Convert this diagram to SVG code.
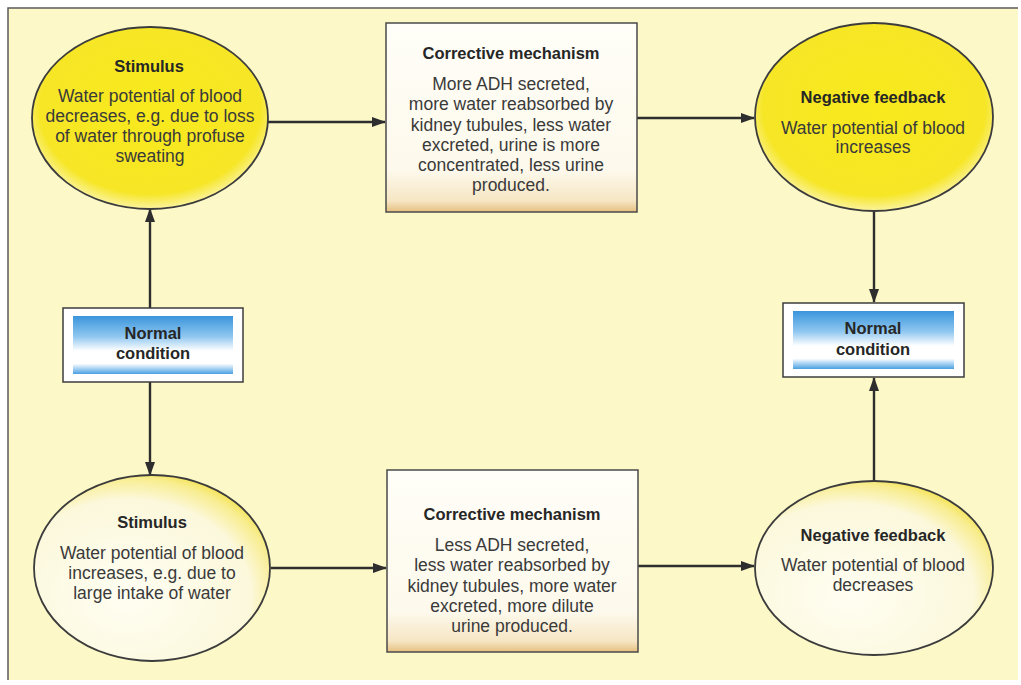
<svg xmlns="http://www.w3.org/2000/svg" width="1021" height="685" viewBox="0 0 1021 685">
<defs>
<radialGradient id="ySolid" cx="0.5" cy="0.45" r="0.55">
<stop offset="0" stop-color="#f8ea1c"/>
<stop offset="0.85" stop-color="#f6e626"/>
<stop offset="1" stop-color="#fbf3a0"/>
</radialGradient>
<radialGradient id="yPale" cx="0.4" cy="0.65" r="0.72">
<stop offset="0" stop-color="#fffef2"/>
<stop offset="0.72" stop-color="#fcf8dc"/>
<stop offset="0.88" stop-color="#f8ed90"/>
<stop offset="1" stop-color="#f2dc2a"/>
</radialGradient>
<linearGradient id="boxFill" x1="0" y1="0" x2="0" y2="1">
<stop offset="0" stop-color="#fffef8"/>
<stop offset="0.78" stop-color="#fdf9ec"/>
<stop offset="0.94" stop-color="#f6e6c4"/>
<stop offset="1" stop-color="#e6bf80"/>
</linearGradient>
<linearGradient id="blue" x1="0" y1="0" x2="0" y2="1">
<stop offset="0" stop-color="#3b95dc"/>
<stop offset="0.35" stop-color="#8ec6f0"/>
<stop offset="0.6" stop-color="#ffffff"/>
<stop offset="0.82" stop-color="#ffffff"/>
<stop offset="1" stop-color="#4aa0e2"/>
</linearGradient>
<marker id="arr" viewBox="0 0 14 10" refX="13" refY="5" markerWidth="14" markerHeight="10" markerUnits="userSpaceOnUse" orient="auto">
<path d="M0,0 L14,5 L0,10 z" fill="#2e2e2e"/>
</marker>
<style>
.ell{stroke:#3c3c3c;stroke-width:1.8}
.box{fill:url(#boxFill);stroke:#4a4a4a;stroke-width:1.5}
.nc{fill:#ffffff;stroke:#3c3c3c;stroke-width:1.5}
.t{font-family:"Liberation Sans",Arial,sans-serif;font-weight:bold;font-size:16.5px;fill:#262626;text-anchor:middle}
.b{font-family:"Liberation Sans",Arial,sans-serif;font-size:17.5px;fill:#3a3a3a;text-anchor:middle}
.c{stroke:#2e2e2e;stroke-width:2.4;fill:none;marker-end:url(#arr)}
</style>
</defs>
<rect x="0" y="0" width="1021" height="685" fill="#ffffff"/>
<rect x="8" y="8" width="1010" height="672" fill="#fcf8c8"/>
<path d="M8,680 L8,8 L1018,8" fill="none" stroke="#5a5a5a" stroke-width="1.5"/>

<g id="connectors">
<line class="c" x1="268" y1="122" x2="385" y2="122"/>
<line class="c" x1="637" y1="118" x2="754" y2="118"/>
<line class="c" x1="150" y1="308" x2="150" y2="209"/>
<line class="c" x1="150" y1="382" x2="150" y2="475"/>
<line class="c" x1="271" y1="568" x2="386" y2="568"/>
<line class="c" x1="638" y1="566" x2="754" y2="566"/>
<line class="c" x1="874" y1="210" x2="874" y2="302"/>
<line class="c" x1="874" y1="482" x2="874" y2="378"/>
</g>

<g id="stimulus-top">
<ellipse class="ell" cx="150" cy="118" rx="118" ry="91" fill="url(#ySolid)"/>
<text class="t" x="149" y="72">Stimulus</text>
<text class="b" x="150" y="102">Water potential of blood</text>
<text class="b" x="150" y="122">decreases, e.g. due to loss</text>
<text class="b" x="150" y="142">of water through profuse</text>
<text class="b" x="150" y="162">sweating</text>
</g>

<g id="corrective-top">
<rect class="box" x="386" y="23" width="251" height="189"/>
<text class="t" x="511" y="59">Corrective mechanism</text>
<text class="b" x="511" y="90">More ADH secreted,</text>
<text class="b" x="511" y="110">more water reabsorbed by</text>
<text class="b" x="511" y="131">kidney tubules, less water</text>
<text class="b" x="511" y="151">excreted, urine is more</text>
<text class="b" x="511" y="171">concentrated, less urine</text>
<text class="b" x="511" y="191">produced.</text>
</g>

<g id="feedback-top">
<ellipse class="ell" cx="874" cy="117" rx="119" ry="94" fill="url(#ySolid)"/>
<text class="t" x="873" y="103">Negative feedback</text>
<text class="b" x="873" y="134">Water potential of blood</text>
<text class="b" x="873" y="153">increases</text>
</g>

<g id="normal-left">
<rect class="nc" x="63" y="308" width="180" height="74"/>
<rect x="73" y="316" width="160" height="58" fill="url(#blue)"/>
<text class="t" x="153" y="339">Normal</text>
<text class="t" x="153" y="359">condition</text>
</g>

<g id="normal-right">
<rect class="nc" x="783" y="303" width="181" height="74"/>
<rect x="793" y="311" width="161" height="58" fill="url(#blue)"/>
<text class="t" x="873" y="334">Normal</text>
<text class="t" x="873" y="355">condition</text>
</g>

<g id="stimulus-bottom">
<ellipse class="ell" cx="152" cy="568" rx="118" ry="93" fill="url(#yPale)"/>
<text class="t" x="152" y="528">Stimulus</text>
<text class="b" x="152" y="559">Water potential of blood</text>
<text class="b" x="152" y="579">increases, e.g. due to</text>
<text class="b" x="152" y="599">large intake of water</text>
</g>

<g id="corrective-bottom">
<rect class="box" x="387" y="470" width="251" height="182"/>
<text class="t" x="512" y="520">Corrective mechanism</text>
<text class="b" x="512" y="551">Less ADH secreted,</text>
<text class="b" x="512" y="571">less water reabsorbed by</text>
<text class="b" x="512" y="592">kidney tubules, more water</text>
<text class="b" x="512" y="612">excreted, more dilute</text>
<text class="b" x="512" y="632">urine produced.</text>
</g>

<g id="feedback-bottom">
<ellipse class="ell" cx="874" cy="568" rx="119" ry="87" fill="url(#yPale)"/>
<text class="t" x="873" y="541">Negative feedback</text>
<text class="b" x="873" y="571">Water potential of blood</text>
<text class="b" x="873" y="591">decreases</text>
</g>
</svg>
